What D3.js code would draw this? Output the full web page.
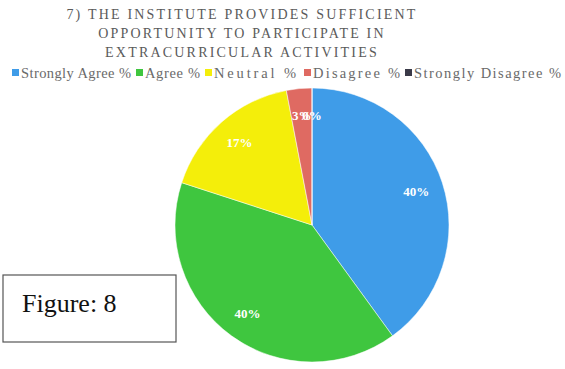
<!DOCTYPE html>
<html>
<head>
    <title>Figure 8</title>
    <script src="https://d3js.org/d3.v7.min.js"></script>
    <style type="text/css">
        body{ margin:0; background:#fff; }
        .title text{
            font-family: "Liberation Serif", serif;
            font-size: 14px;
            letter-spacing: 2.2px;
            fill: #5a5a5a;
        }
        .legend text{
            font-family: "Liberation Serif", serif;
            font-size: 14.5px;
            fill: #6a6a6a;
        }
        .label{
            font-family: "Liberation Serif", serif;
            font-size: 13px;
            font-weight: bold;
            fill: #fff;
        }
    </style>
</head>
<body>
<script>
    var w = 565;
    var h = 369;

    var titleLines = ["7) THE INSTITUTE PROVIDES SUFFICIENT",
                      "OPPORTUNITY TO PARTICIPATE IN",
                      "EXTRACURRICULAR ACTIVITIES"];
    var categories = ["Strongly Agree %", "Agree %", "Neutral %", "Disagree %", "Strongly Disagree %"];
    var values = [40, 40, 17, 3, 0];
    var colors = ["#3f9ce8", "#3fc63f", "#f4ee0a", "#df6a62", "#3a3a48"];

    var svg = d3.select("body")
                .append("svg")
                .attr("width", w)
                .attr("height", h);

    // title
    svg.append("g")
        .attr("class", "title")
        .selectAll("text")
        .data(titleLines)
        .enter()
        .append("text")
        .attr("x", 242)
        .attr("y", function(d, i){ return 19 + i * 19; })
        .attr("text-anchor", "middle")
        .text(function(d){ return d; });

    // legend (the scan stretches it a bit, so fixed slots)
    var legendX = [12, 136, 205, 304, 405];
    var legendW = [110, 55, 82, 87, 147];
    var legend = svg.append("g")
        .attr("class", "legend")
        .selectAll("g")
        .data(categories)
        .enter()
        .append("g")
        .attr("transform", function(d, i){ return "translate(" + legendX[i] + ",78)"; });
    legend.append("rect")
        .attr("x", 0).attr("y", -9)
        .attr("width", 7).attr("height", 7)
        .attr("fill", function(d, i){ return colors[i]; });
    legend.append("text")
        .attr("x", 9)
        .attr("y", 0)
        .attr("textLength", function(d, i){ return legendW[i]; })
        .attr("lengthAdjust", "spacing")
        .text(function(d){ return d; });

    // pie
    var cx = 312, cy = 225, r = 137;
    var pie = d3.pie().sort(null).value(function(d){ return d; });
    var arc = d3.arc().innerRadius(0).outerRadius(r);
    var labelArc = d3.arc().innerRadius(r * 0.8).outerRadius(r * 0.8);
    var arcs = pie(values);

    var g = svg.append("g").attr("transform", "translate(" + cx + "," + cy + ")");
    g.selectAll("path")
        .data(arcs)
        .enter()
        .append("path")
        .attr("d", arc)
        .attr("fill", function(d, i){ return colors[i]; })
        .attr("stroke", "#fff")
        .attr("stroke-width", 0.5);

    g.selectAll("text")
        .data(arcs)
        .enter()
        .append("text")
        .attr("class", "label")
        .attr("transform", function(d){ return "translate(" + labelArc.centroid(d) + ")"; })
        .attr("text-anchor", "middle")
        .attr("dy", "0.35em")
        .text(function(d){ return d.data + "%"; });

    // figure caption box
    svg.append("rect")
        .attr("x", 3).attr("y", 275)
        .attr("width", 173).attr("height", 67)
        .attr("fill", "#fff")
        .attr("stroke", "#555")
        .attr("stroke-width", 1.2);
    svg.append("text")
        .attr("x", 22)
        .attr("y", 312)
        .attr("font-family", "Liberation Serif, serif")
        .attr("font-size", "26px")
        .attr("fill", "#111")
        .text("Figure: 8");
</script>
</body>
</html>
